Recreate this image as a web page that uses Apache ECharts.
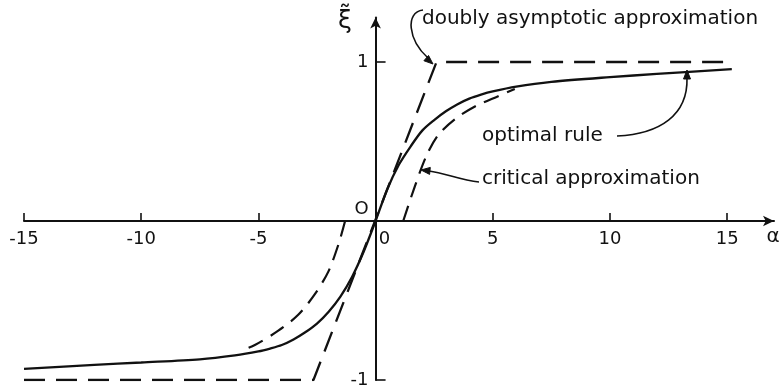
<!DOCTYPE html>
<html>
<head>
<meta charset="utf-8">
<script src="https://cdn.jsdelivr.net/npm/echarts@6/dist/echarts.min.js"></script>
<style>
html,body{margin:0;padding:0;background:#fff;}
#c{width:779px;height:392px;}
</style>
</head>
<body>
<div id="c"></div>
<script>
// ---- data ----
var xTicks = [-15, -10, -5, 0, 5, 10, 15];
var yTicks = [-1, 0, 1];

var alphaOpt = [-15, -12, -10, -7.5, -6, -5, -4.5, -4, -3.5, -3, -2.5, -2, -1.5, -1, -0.5, 0, 0.5, 1, 1.5, 2, 2.5, 3, 3.5, 4, 4.5, 5, 6, 7.5, 10, 12, 15.2];
var xiOpt    = [-0.93, -0.905, -0.89, -0.87, -0.845, -0.82, -0.802, -0.78, -0.745, -0.7, -0.645, -0.57, -0.475, -0.35, -0.19, 0, 0.2, 0.355, 0.47, 0.57, 0.635, 0.69, 0.735, 0.77, 0.795, 0.815, 0.845, 0.875, 0.905, 0.925, 0.955];

var alphaDA = [-15, -2.65, 2.6, 15];
var xiDA    = [-1, -1, 1, 1];

var alphaCritUp = [1.18, 1.68, 2.17, 2.67, 3.38, 4.24, 5.23, 5.94];
var xiCritUp    = [0, 0.22, 0.41, 0.54, 0.64, 0.72, 0.785, 0.83];
var alphaCritLo = [-1.3, -1.59, -2.02, -2.59, -3.3, -4.15, -5.15, -5.64];
var xiCritLo    = [0, -0.15, -0.32, -0.46, -0.59, -0.69, -0.78, -0.81];

var labelDA = 'doubly asymptotic approximation';
var labelOpt = 'optimal rule';
var labelCrit = 'critical approximation';
var axisNameX = 'α';
var axisNameY = 'ξ̃';

function zip(a, b) { return a.map(function (v, i) { return [v, b[i]]; }); }

var ink = '#111';
var font = 'DejaVu Sans';

// grid geometry
var G = {left: 24, right: 5, top: 17.5, bottom: 12};
var W = 779, H = 392;
var xMin = -15, xMax = 17, yMin = -1, yMax = 1.28;
var plotW = W - G.left - G.right, plotH = H - G.top - G.bottom;
var zeroX = G.left + (0 - xMin) / (xMax - xMin) * plotW;
var zeroY = G.top + (yMax - 0) / (yMax - yMin) * plotH;

var chart = echarts.init(document.getElementById('c'), null, {renderer: 'canvas'});

function arrowHead(tip, dir, len, hw) {
  var n = Math.sqrt(dir[0] * dir[0] + dir[1] * dir[1]);
  var d = [dir[0] / n, dir[1] / n];
  var b = [tip[0] - d[0] * len, tip[1] - d[1] * len];
  var p = [-d[1] * hw, d[0] * hw];
  return {
    type: 'polygon',
    shape: {points: [tip, [b[0] + p[0], b[1] + p[1]], [b[0] - p[0], b[1] - p[1]]]},
    style: {fill: ink, stroke: ink, lineWidth: 1}
  };
}

var option = {
  animation: false,
  backgroundColor: '#fff',
  grid: {left: G.left, right: G.right, top: G.top, bottom: G.bottom, containLabel: false, outerBoundsMode: 'none'},
  xAxis: {
    type: 'value', min: xMin, max: xMax, interval: 5, position: 'bottom',
    offset: -(G.top + plotH - zeroY),
    axisLine: {show: true, onZero: false, symbol: ['none', 'arrow'], symbolSize: [8, 11], lineStyle: {color: ink, width: 2}},
    axisTick: {show: true, inside: true, length: 8, lineStyle: {color: ink, width: 1.6}, customValues: xTicks},
    axisLabel: {
      show: true, margin: 9, color: ink, fontSize: 18, fontFamily: font, customValues: xTicks,
      formatter: function (v) { return v === 0 ? '{z|0}' : String(v); },
      rich: {z: {fontSize: 18, fontFamily: font, color: ink, padding: [0, 0, 0, 18]}}
    },
    splitLine: {show: false}
  },
  yAxis: {
    type: 'value', min: yMin, max: yMax, interval: 1, position: 'left',
    offset: -(zeroX - G.left),
    axisLine: {show: true, onZero: false, symbol: ['none', 'arrow'], symbolSize: [8, 11], lineStyle: {color: ink, width: 2}},
    axisTick: {show: true, inside: true, length: 10, lineStyle: {color: ink, width: 1.6}, customValues: [-1, 1]},
    axisLabel: {
      show: true, margin: 7, color: ink, fontSize: 18, fontFamily: font, customValues: yTicks,
      formatter: function (v) { return v === 0 ? '{o|O}' : String(v); },
      rich: {o: {fontSize: 18, fontFamily: font, color: ink, padding: [0, 0, 24, 0]}}
    },
    splitLine: {show: false}
  },
  series: [
    {
      name: labelOpt, type: 'line', data: zip(alphaOpt, xiOpt), smooth: 0.3,
      showSymbol: false, lineStyle: {color: ink, width: 2.3}, z: 3
    },
    {
      name: labelDA, type: 'line', data: zip(alphaDA, xiDA),
      showSymbol: false, lineStyle: {color: ink, width: 2.3, type: [21, 11]}, z: 2
    },
    {
      name: labelCrit, type: 'line', data: zip(alphaCritUp, xiCritUp), smooth: 0.3,
      showSymbol: false, lineStyle: {color: ink, width: 2.2, type: [16, 9]}, z: 2
    },
    {
      name: labelCrit + ' (lower)', type: 'line', data: zip(alphaCritLo, xiCritLo), smooth: 0.3,
      showSymbol: false, lineStyle: {color: ink, width: 2.2, type: [16, 9]}, z: 2
    }
  ],
  graphic: [
    {type: 'text', x: 345, y: 21, style: {text: axisNameY, font: '25px "DejaVu Sans"', fill: ink, align: 'center', verticalAlign: 'middle'}},
    {type: 'text', x: 773, y: 237, style: {text: axisNameX, font: '20px "DejaVu Sans"', fill: ink, align: 'center', verticalAlign: 'middle'}},
    {type: 'text', x: 422, y: 19, style: {text: labelDA, font: '20px "DejaVu Sans"', fill: ink, align: 'left', verticalAlign: 'middle'}},
    {type: 'text', x: 482, y: 136, style: {text: labelOpt, font: '20px "DejaVu Sans"', fill: ink, align: 'left', verticalAlign: 'middle'}},
    {type: 'text', x: 482, y: 179, style: {text: labelCrit, font: '20px "DejaVu Sans"', fill: ink, align: 'left', verticalAlign: 'middle'}},
    {type: 'bezierCurve', shape: {x1: 423, y1: 10, cpx1: 405, cpy1: 12, cpx2: 408, cpy2: 40, x2: 428, y2: 58}, style: {stroke: ink, lineWidth: 1.6, fill: null}},
    arrowHead([433, 64], [23, 20], 9, 3.5),
    {type: 'bezierCurve', shape: {x1: 617, y1: 136, cpx1: 660, cpy1: 134, cpx2: 688, cpy2: 115, x2: 687, y2: 78}, style: {stroke: ink, lineWidth: 1.6, fill: null}},
    arrowHead([687, 70], [0, -1], 9, 3.5),
    {type: 'bezierCurve', shape: {x1: 479, y1: 182, cpx1: 460, cpy1: 180, cpx2: 445, cpy2: 173, x2: 429, y2: 171}, style: {stroke: ink, lineWidth: 1.6, fill: null}},
    arrowHead([421, 170], [-1, -0.1], 9, 3.5)
  ]
};
chart.setOption(option);
</script>
</body>
</html>
